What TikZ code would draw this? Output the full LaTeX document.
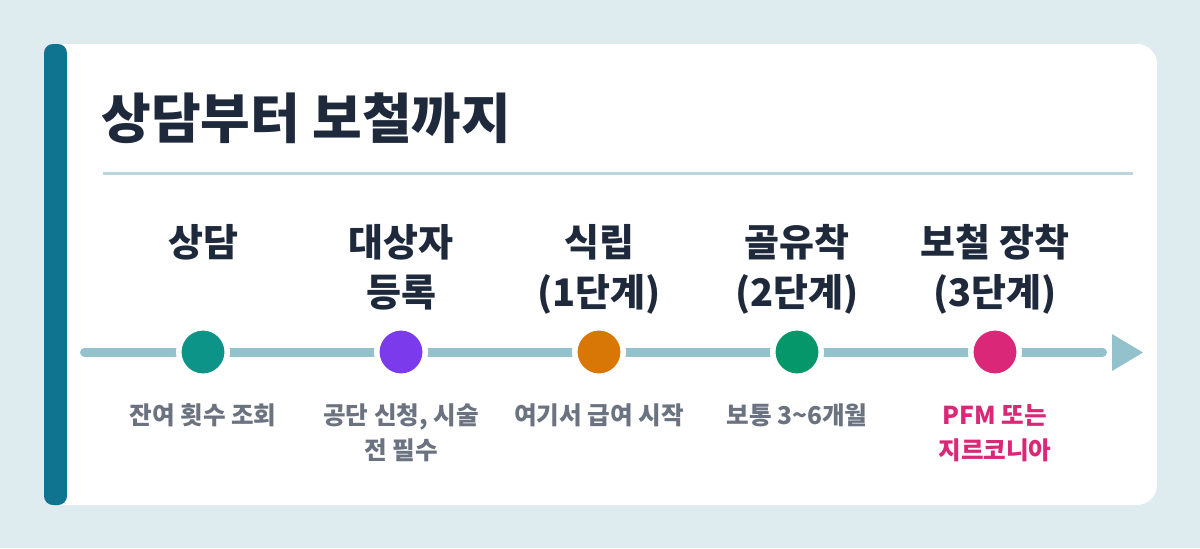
\documentclass[tikz,border=0pt]{standalone}
\usepackage{fontspec}
\setmainfont{Noto Sans CJK KR}
\usetikzlibrary{positioning}

\definecolor{bgc}{HTML}{DEEBEF}
\definecolor{barc}{HTML}{0E7490}
\definecolor{titlec}{HTML}{1E293B}
\definecolor{rulec}{HTML}{BCD6DE}
\definecolor{linec}{HTML}{93C1CC}
\definecolor{notec}{HTML}{6B7280}
\definecolor{tealc}{HTML}{0D9488}
\definecolor{purplec}{HTML}{7C3AED}
\definecolor{orangec}{HTML}{D97706}
\definecolor{greenc}{HTML}{059669}
\definecolor{pinkc}{HTML}{DB2777}

\begin{document}
\begin{tikzpicture}[x=0.5pt, y=-0.5pt, every node/.style={inner sep=0pt, font=\bfseries},
		dot/.style={circle, draw=white, line width=2.75pt, minimum size=24.25pt},
		head/.style={anchor=base, align=center, text=titlec, font=\fontsize{19}{25}\selectfont\bfseries},
		note/.style={anchor=base, align=center, text=notec, font=\fontsize{12.3}{17.5}\selectfont\bfseries}]
				% Card
				\fill[bgc] (0,0) rectangle (1200,548);
				\useasboundingbox (0,0) rectangle (1200,548);
				\fill[white, rounded corners=10pt] (44,44) rectangle (1157,505);
				\fill[barc, rounded corners=4.5pt] (44,44) rectangle (67,505);

				% Title
				\node[anchor=base west, text=titlec, font=\fontsize{27}{32}\selectfont\bfseries] (title) at (101,138) {상담부터 보철까지};
				\draw[rulec, line width=1.5pt] (103,173) -- (1133,173);

				% Timeline
				\coordinate (start) at (84.5,352);
				\coordinate (end) at (1102.5,352);
				\draw[linec, line width=4.5pt, line cap=round] (start) -- (end);
				\fill[linec] (1112,334) -- (1143,352.5) -- (1112,371) -- cycle;

				% Steps
				\node[dot, fill=tealc] (d1) at (203,352) {};
				\node[dot, fill=purplec] (d2) at (401,352) {};
				\node[dot, fill=orangec] (d3) at (599,352) {};
				\node[dot, fill=greenc] (d4) at (797,352) {};
				\node[dot, fill=pinkc] (d5) at (995,352) {};

				% Labels (base = last line)
				\node[head] (h1) at (203,256) {상담};
				\node[head] (h2) at (401,306) {대상자\\등록};
				\node[head] (h3) at (599,306) {식립\\(1단계)};
				\node[head] (h4) at (797,306) {골유착\\(2단계)};
				\node[head] (h5) at (995,306) {보철 장착\\(3단계)};

				\node[note] (n1) at (203,424) {잔여 횟수 조회};
				\node[note] (n2) at (401,459) {공단 신청, 시술\\전 필수};
				\node[note] (n3) at (599,424) {여기서 급여 시작};
				\node[note] (n4) at (797,424) {보통 3\textasciitilde 6개월};
				\node[note, text=pinkc] (n5) at (995,459) {PFM 또는\\지르코니아};
			\end{tikzpicture}
\end{document}
